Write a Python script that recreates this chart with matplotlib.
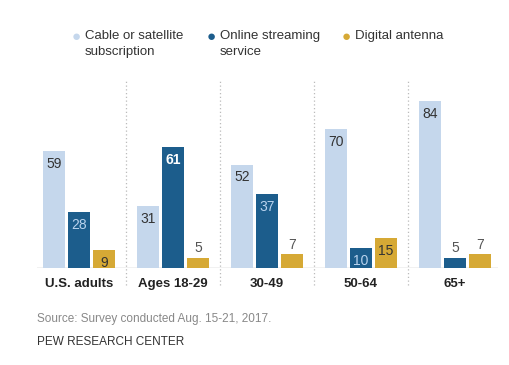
import matplotlib
matplotlib.use("Agg")
import matplotlib.pyplot as plt
import numpy as np

categories = ["U.S. adults", "Ages 18-29", "30-49", "50-64", "65+"]
series_names = ["Cable or satellite\nsubscription", "Online streaming\nservice", "Digital antenna"]
cable = [59, 31, 52, 70, 84]
streaming = [28, 61, 37, 10, 5]
antenna = [9, 5, 7, 15, 7]

colors = ["#c5d7ec", "#1c5d8c", "#d6a935"]
label_colors = ["#333333", "#b9d3ee", "#333333"]

W, H = 510, 365
fig = plt.figure(figsize=(W / 100, H / 100), dpi=100)
plt.rcParams['font.family'] = ['Liberation Sans', 'DejaVu Sans']

ax_left, ax_right = 37, 498
ax_top, ax_bottom = 80, 268
ax = fig.add_axes([ax_left / W, (H - ax_bottom) / H, (ax_right - ax_left) / W, (ax_bottom - ax_top) / H])
ax.set_xlim(-0.447, 4.457)
ax.set_ylim(0, (ax_bottom - ax_top) / 1.99)
ax.axis("off")

x = np.arange(len(categories))
bw = 0.24
off = 0.266
all_series = [cable, streaming, antenna]
for i, vals in enumerate(all_series):
    xs = x + (i - 1) * off
    ax.bar(xs, vals, width=bw, color=colors[i], zorder=2)
    for xv, v in zip(xs, vals):
        if v >= 9:
            col = label_colors[i]
            weight = "normal"
            if i == 1 and v == max(streaming):
                col = "white"
                weight = "bold"
            ax.text(xv, v - 6.5, str(v), ha="center", va="center", fontsize=10,
                    color=col, fontweight=weight, zorder=3)
        else:
            ax.text(xv, v + 4.8, str(v), ha="center", va="center", fontsize=10,
                    color="#555555", zorder=3)

# baseline
ax.axhline(0, color="#bbbbbb", lw=1, zorder=1)
# dotted dividers
for d in x[:-1] + 0.5:
    ax.axvline(d, ymin=-0.09, ymax=1.0, color="#bbbbbb", lw=0.9, ls=(0, (1, 2)), clip_on=False, zorder=0)

# category labels
for xv, c in zip(x, categories):
    ax.text(xv, -7.8, c, ha="center", va="center", fontsize=9.5, fontweight="bold", color="#222222")

# legend
leg_x = [76, 211, 346]
for lx, name, col in zip(leg_x, series_names, colors):
    fig.text(lx / W, 1 - 37 / H, "\u25cf", color=col, fontsize=11, ha="center", va="center")
    fig.text((lx + 9) / W, 1 - 30 / H, name, color="#333333", fontsize=9.5, ha="left", va="top",
             linespacing=1.45)

fig.text(37 / W, 1 - 319 / H, "Source: Survey conducted Aug. 15-21, 2017.", fontsize=8.5,
         color="#888888", ha="left", va="center")
fig.text(37 / W, 1 - 342 / H, "PEW RESEARCH CENTER", fontsize=8.5, color="#333333",
         ha="left", va="center")

fig.savefig("out.png", dpi=100)
